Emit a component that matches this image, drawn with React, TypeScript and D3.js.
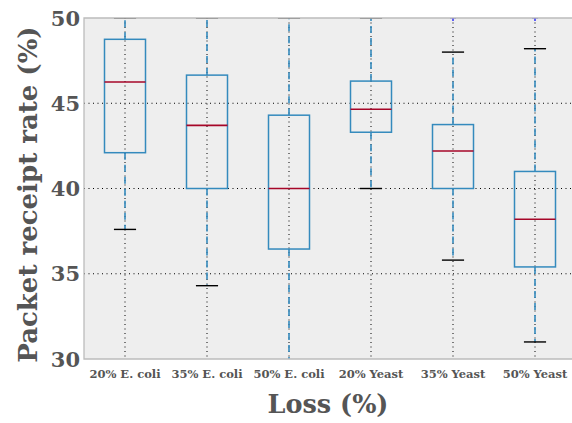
import * as d3 from 'd3';

// Box plot statistics
const categories = ['20% E. coli', '35% E. coli', '50% E. coli', '20% Yeast', '35% Yeast', '50% Yeast'];
const whiskerLow = [37.6, 34.3, 29.5, 40.0, 35.8, 31.0];
const q1 = [42.1, 40.0, 36.45, 43.3, 40.0, 35.4];
const median = [46.25, 43.7, 40.0, 44.65, 42.2, 38.2];
const q3 = [48.75, 46.65, 44.3, 46.3, 43.75, 41.0];
const whiskerHigh = [50.0, 50.0, 50.0, 50.0, 48.0, 48.2];
const fliers = [[], [], [], [], [50.0], [50.0]];
const yTicks = [30, 35, 40, 45, 50];

const W = 572;
const H = 423;
const left = 84;
const top = 18;
const bottom = 359;
const right = 576;

const serif = '"DejaVu Serif", "Liberation Serif", serif';
const textColor = '#555555';
const boxColor = '#348ABD';
const medColor = '#A60628';

function App() {
  const x = d3.scaleBand<string>().domain(categories).range([left, right]);
  const y = d3.scaleLinear().domain([30, 50]).range([bottom, top]);
  const bw = x.step() * 0.5;
  const capW = x.step() * 0.27;

  return (
    <svg width={W} height={H} style={{ position: 'absolute', left: 0, top: 0, background: '#fff' }}>
      <defs>
        <clipPath id="plot">
          <rect x={left} y={top} width={right - left} height={bottom - top} />
        </clipPath>
      </defs>
      <rect x={left} y={top} width={right - left} height={bottom - top} fill="#EEEEEE" />

      {/* grid */}
      <g stroke="#000" strokeWidth={1} strokeDasharray="1,3.5">
        {yTicks.filter(t => t > 30 && t < 50).map(t => (
          <line key={t} x1={left} x2={right} y1={y(t)} y2={y(t)} />
        ))}
        {categories.map(c => {
          const cx = x(c)! + x.bandwidth() / 2;
          return <line key={c} x1={cx} x2={cx} y1={top} y2={bottom} />;
        })}
      </g>

      <g clipPath="url(#plot)">
        {categories.map((c, i) => {
          const cx = x(c)! + x.bandwidth() / 2;
          return (
            <g key={c}>
              <line x1={cx} x2={cx} y1={y(q3[i])} y2={y(whiskerHigh[i])}
                stroke={boxColor} strokeWidth={1.6} strokeDasharray="7,5" />
              <line x1={cx} x2={cx} y1={y(q1[i])} y2={y(whiskerLow[i])}
                stroke={boxColor} strokeWidth={1.6} strokeDasharray="7,5" />
              <line x1={cx - capW / 2} x2={cx + capW / 2} y1={y(whiskerHigh[i])} y2={y(whiskerHigh[i])}
                stroke="#000" strokeWidth={1.4} />
              <line x1={cx - capW / 2} x2={cx + capW / 2} y1={y(whiskerLow[i])} y2={y(whiskerLow[i])}
                stroke="#000" strokeWidth={1.4} />
              <rect x={cx - bw / 2} y={y(q3[i])} width={bw} height={y(q1[i]) - y(q3[i])}
                fill="none" stroke={boxColor} strokeWidth={1.5} />
              <line x1={cx - bw / 2} x2={cx + bw / 2} y1={y(median[i])} y2={y(median[i])}
                stroke={medColor} strokeWidth={1.6} />
              {fliers[i].map((f, j) => (
                <path key={j} d={`M${cx - 3},${y(f)}H${cx + 3}M${cx},${y(f) - 3}V${y(f) + 3}`}
                  stroke="#0000ff" strokeWidth={1.2} fill="none" />
              ))}
            </g>
          );
        })}
      </g>

      {/* spines */}
      <path d={`M${right},${top}H${left}V${bottom}H${right}`} fill="none" stroke="#BCBCBC" strokeWidth={1.3} />

      {/* y ticks */}
      {yTicks.map(t => (
        <text key={t} x={left - 4} y={y(t)} dy="0.36em" textAnchor="end"
          fontFamily={serif} fontWeight="bold" fontSize={21} fill={textColor}>{t}</text>
      ))}

      {/* x ticks */}
      {categories.map(c => (
        <text key={c} x={x(c)! + x.bandwidth() / 2} y={378} textAnchor="middle"
          fontFamily={serif} fontWeight="bold" fontSize={11.5} fill={textColor}>{c}</text>
      ))}

      <text x={328} y={413} textAnchor="middle" fontFamily={serif} fontWeight="bold"
        fontSize={25.5} fill={textColor}>Loss (%)</text>
      <text transform={`translate(37,${(top + bottom) / 2 + 6}) rotate(-90)`} textAnchor="middle"
        fontFamily={serif} fontWeight="bold" fontSize={26} fill={textColor}>Packet receipt rate (%)</text>
    </svg>
  );
}

export default App;
